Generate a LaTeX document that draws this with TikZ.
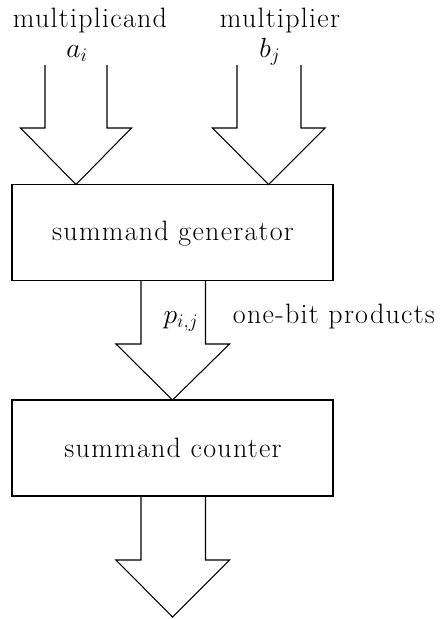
\documentclass[tikz,border=0pt]{standalone}
\usepackage{fontspec}
\newfontfamily\lsfont[LetterSpace=4.5]{Latin Modern Roman}
\begin{document}
\begin{tikzpicture}[x=0.75pt,y=-0.75pt,
  lbl/.style={inner sep=0pt,anchor=base,font=\lsfont\fontsize{21}{25}\selectfont},
  boxx/.style={draw,line width=0.8pt,minimum width=321*0.75pt,minimum height=96*0.75pt,inner sep=0pt},
  bigarrow/.style={draw,line width=0.8pt,line join=miter}]
\useasboundingbox (0,0) rectangle (440,619);
% boxes
\node[boxx] (gen) at (172.5,232.5) {};
\node[boxx] (cnt) at (172.5,448) {};
\node[lbl] (gent) at (173,240) {summand generator};
\node[lbl] (cntt) at (173,457) {summand counter};
% labels
\node[lbl] (mcand) at (90,27) {multiplicand};
\node[lbl] (ai) at (77,57) {$a_i$};
\node[lbl] (mier) at (280,27) {multiplier};
\node[lbl] (bj) at (270,57) {$b_j$};
\node[lbl] (pij) at (181,323) {$p_{i,j}$};
\node[lbl] (obp) at (334,323) {one-bit products};
% coordinates for arrow tips
\coordinate (tipA) at (76,184.5);
\coordinate (tipB) at (268.5,184.5);
\coordinate (tipC) at (172.5,400);
\coordinate (tipD) at (172.5,617);
% input arrows
\draw[bigarrow] (45,65) -- (45,128) -- (20.5,128) -- (tipA) -- (131.5,128) -- (107,128) -- (107,65);
\draw[bigarrow] (237,65) -- (237,128) -- (212.5,128) -- (tipB) -- (325,128) -- (301,128) -- (301,65);
% middle arrow
\draw[bigarrow] (141,280.5) -- (141,344) -- (116,344) -- (tipC) -- (229.5,344) -- (205.5,344) -- (205.5,280.5);
% bottom arrow
\draw[bigarrow] (141,496) -- (141,560) -- (116,560) -- (tipD) -- (229.5,560) -- (205.5,560) -- (205.5,496);
\end{tikzpicture}
\end{document}
